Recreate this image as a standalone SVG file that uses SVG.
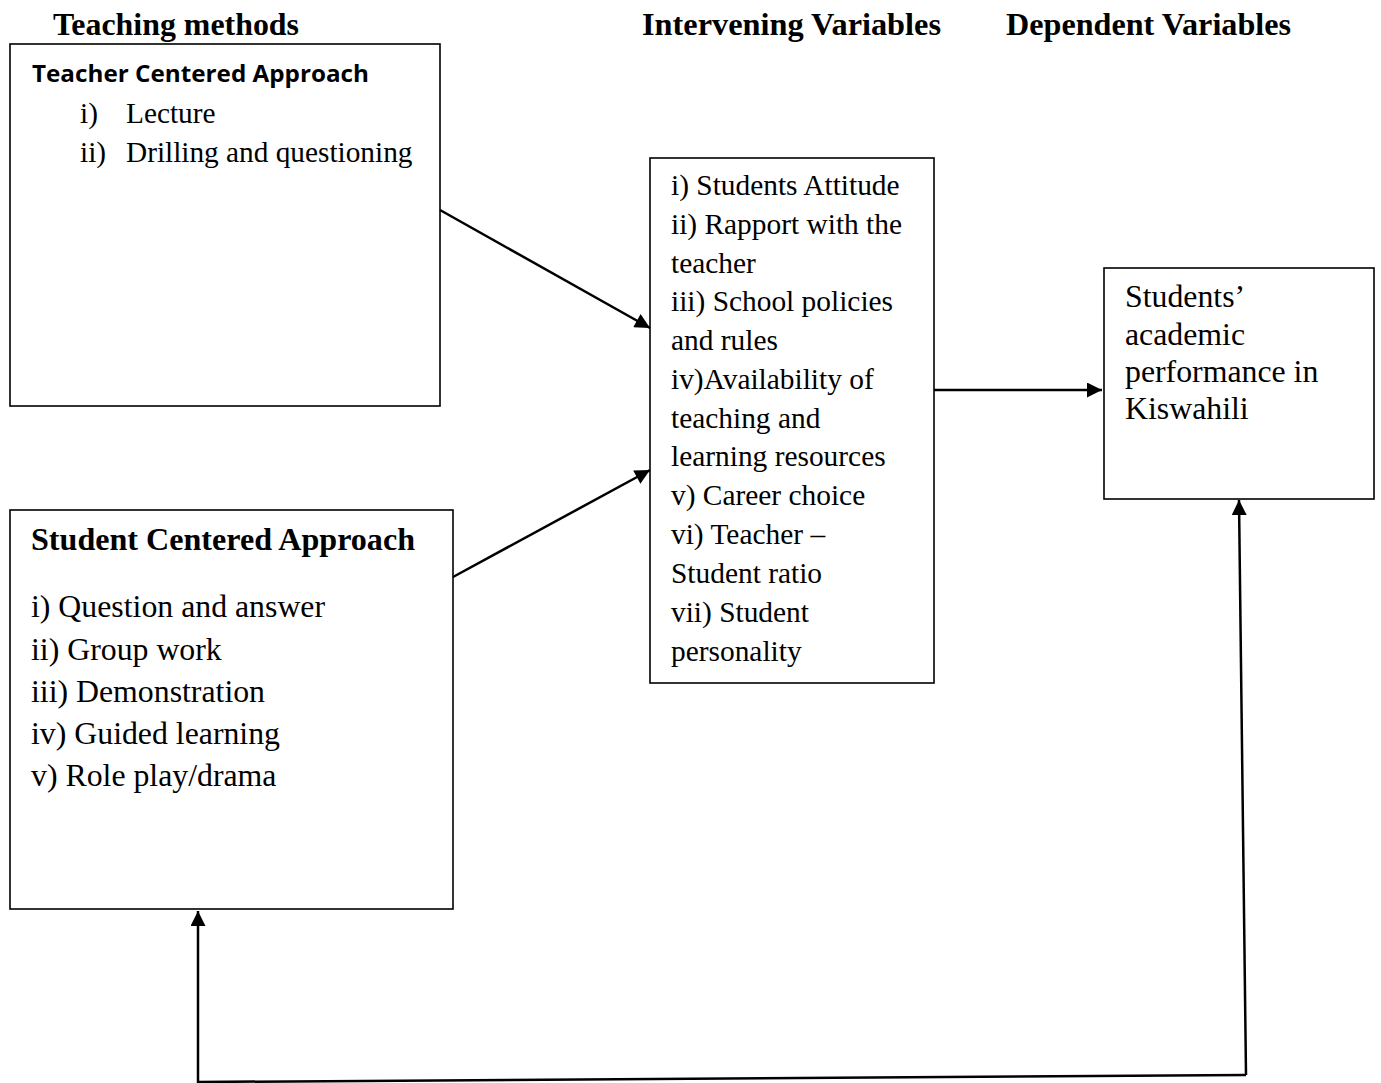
<svg xmlns="http://www.w3.org/2000/svg" width="1381" height="1083" viewBox="0 0 1381 1083">
<style>
.box{fill:#fff;stroke:#000;stroke-width:1.6}
.t{font-family:"Liberation Serif","Times New Roman",serif;fill:#000}
.h{font-family:"Liberation Serif","Times New Roman",serif;font-weight:700;font-size:31px;fill:#000}
.s{font-family:"Open Sans","Liberation Sans",sans-serif;font-weight:700;font-size:24px;fill:#000}
.c{stroke:#000;stroke-width:2.5;fill:none}
</style>
<defs>
<marker id="ah" viewBox="0 0 10 10" refX="10" refY="5" markerWidth="16" markerHeight="15" markerUnits="userSpaceOnUse" orient="auto">
<path d="M0,0 L10,5 L0,10 z" fill="#000"/>
</marker>
</defs>
<rect width="1381" height="1083" fill="#fff"/>
<g id="headers">
<text class="h" x="53" y="35" textLength="246" lengthAdjust="spacingAndGlyphs">Teaching methods</text>
<text class="h" x="642" y="35" textLength="299" lengthAdjust="spacingAndGlyphs">Intervening Variables</text>
<text class="h" x="1006" y="35" textLength="285" lengthAdjust="spacingAndGlyphs">Dependent Variables</text>
</g>
<g id="teacher-centered">
<rect class="box" x="10" y="44" width="430" height="362"/>
<text class="s" x="32" y="82" textLength="337" lengthAdjust="spacingAndGlyphs">Teacher Centered Approach</text>
<g class="t" font-size="29.3">
<text x="80" y="123">i)</text>
<text x="126" y="123">Lecture</text>
<text x="80" y="162">ii)</text>
<text x="126" y="162">Drilling and questioning</text>
</g>
</g>
<g id="student-centered">
<rect class="box" x="10" y="510" width="443" height="399"/>
<text class="h" font-size="31" x="31" y="550" textLength="384" lengthAdjust="spacingAndGlyphs">Student Centered Approach</text>
<g class="t" font-size="31.8">
<text x="31" y="617">i) Question and answer</text>
<text x="31" y="660">ii) Group work</text>
<text x="31" y="702">iii) Demonstration</text>
<text x="31" y="744">iv) Guided learning</text>
<text x="31" y="786">v) Role play/drama</text>
</g>
</g>
<g id="intervening">
<rect class="box" x="650" y="158" width="284" height="525"/>
<g class="t" font-size="29.4">
<text x="671" y="195">i) Students Attitude</text>
<text x="671" y="234">ii) Rapport with the</text>
<text x="671" y="273">teacher</text>
<text x="671" y="311">iii) School policies</text>
<text x="671" y="350">and rules</text>
<text x="671" y="389">iv)Availability of</text>
<text x="671" y="428">teaching and</text>
<text x="671" y="466">learning resources</text>
<text x="671" y="505">v) Career choice</text>
<text x="671" y="544">vi) Teacher –</text>
<text x="671" y="583">Student ratio</text>
<text x="671" y="622">vii) Student</text>
<text x="671" y="661">personality</text>
</g>
</g>
<g id="dependent">
<rect class="box" x="1104" y="268" width="270" height="231"/>
<g class="t" font-size="31.8">
<text x="1125" y="307">Students’</text>
<text x="1125" y="345">academic</text>
<text x="1125" y="382">performance in</text>
<text x="1125" y="419">Kiswahili</text>
</g>
</g>
<g id="connectors">
<line class="c" x1="440" y1="210" x2="650" y2="328" marker-end="url(#ah)"/>
<line class="c" x1="453" y1="577" x2="650" y2="470" marker-end="url(#ah)"/>
<line class="c" x1="934" y1="390" x2="1102" y2="390" marker-end="url(#ah)"/>
<line class="c" x1="1246" y1="1075" x2="1239" y2="500" marker-end="url(#ah)"/>
<polyline class="c" points="198,1082 1246,1075"/>
<line class="c" x1="198" y1="1083" x2="198" y2="911" marker-end="url(#ah)"/>
</g>
</svg>
